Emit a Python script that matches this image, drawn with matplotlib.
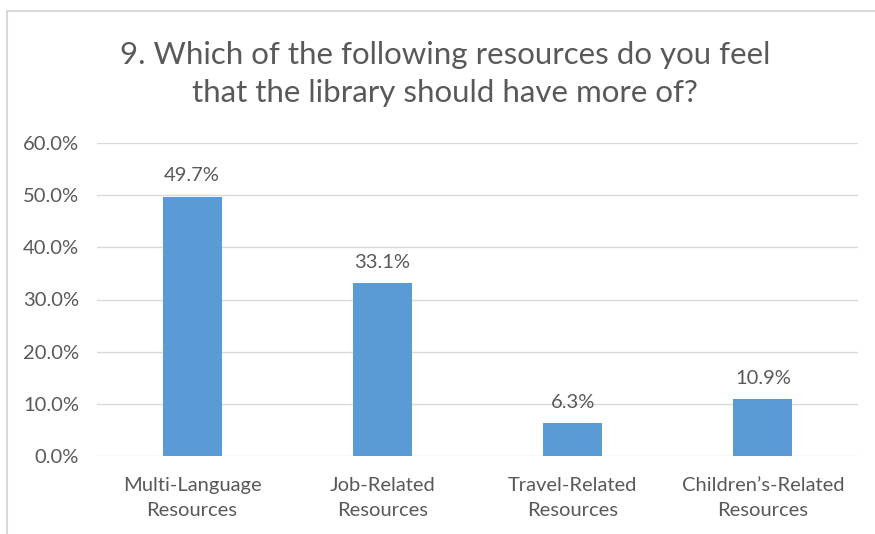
import matplotlib.pyplot as plt
from matplotlib.patches import Rectangle
from matplotlib.ticker import FuncFormatter

categories = ["Multi-Language\nResources", "Job-Related\nResources",
              "Travel-Related\nResources", "Children\u2019s-Related\nResources"]
values = [49.7, 33.1, 6.3, 10.9]
yticks = [0, 10, 20, 30, 40, 50, 60]

plt.rcParams['font.family'] = ['Lato', 'DejaVu Sans']
text_color = '#595959'
bar_color = '#5B9BD5'

W, H = 875, 534
fig = plt.figure(figsize=(W / 100, H / 100), dpi=100)

# chart frame (top and left edges visible)
fig.patches.append(Rectangle((7 / W, -0.1), 1.1, (H - 11) / H + 0.1,
                             transform=fig.transFigure, fill=False,
                             edgecolor='#D9D9D9', linewidth=1.5))

ax = fig.add_axes([97 / W, (H - 456) / H, (858 - 97) / W, (456 - 143) / H])
x = range(len(categories))
ax.bar(x, values, width=0.31, color=bar_color, zorder=3)
ax.set_xlim(-0.5, len(categories) - 0.5)
ax.set_ylim(0, 60)
ax.set_yticks(yticks)
ax.yaxis.set_major_formatter(FuncFormatter(lambda v, p: f"{v:.1f}%"))
ax.set_xticks(list(x))
ax.set_xticklabels(categories, linespacing=1.6)
ax.grid(axis='y', color='#D9D9D9', linewidth=1, zorder=0)
for s in ax.spines.values():
    s.set_visible(False)
ax.tick_params(axis='both', length=0, colors=text_color, labelsize=14.5)
ax.tick_params(axis='x', pad=15)
ax.tick_params(axis='y', pad=13)

for xi, v in zip(x, values):
    ax.annotate(f"{v:.1f}%", (xi, v), xytext=(0, 9), textcoords='offset points',
                ha='center', va='bottom', fontsize=14.5, color=text_color)

fig.text(445 / W, 1 - 74 / H,
         "9. Which of the following resources do you feel\nthat the library should have more of?",
         ha='center', va='center', fontsize=22.5, color=text_color, linespacing=1.45)

fig.savefig('out.png', dpi=100, facecolor='white')
